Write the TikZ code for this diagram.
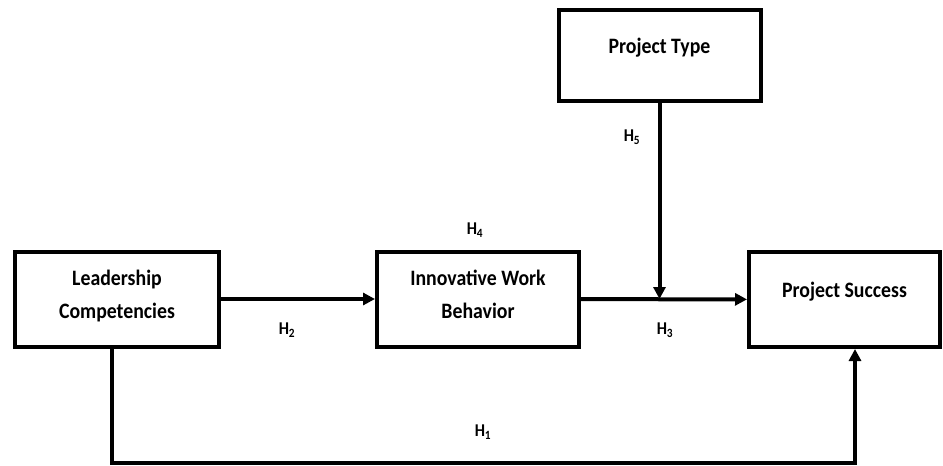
\documentclass[tikz,border=0pt]{standalone}
\usepackage{fontspec}
\setmainfont{Carlito}
\usetikzlibrary{arrows.meta}

\tikzset{
  box/.style={draw, line width=4pt, inner sep=0pt, align=center,
    font=\bfseries\fontsize{22}{33}\selectfont\addfontfeature{FakeStretch=0.9}},
  onebox/.style={box, text height=14pt, text depth=19pt},
  twobox/.style={box, text height=47pt, text depth=9pt},
  link/.style={line width=4pt, -{Triangle[length=12pt,width=12pt]}},
  hyp/.style={font=\bfseries\fontsize{18}{18}\selectfont\addfontfeature{FakeStretch=0.9}}
}

\begin{document}
\begin{tikzpicture}[x=1pt,y=-1pt]
\useasboundingbox (0,0) rectangle (943,466);

% variables
\node[twobox, minimum width=204pt, minimum height=95pt] (lead) at (117,299) {Leadership\\Competencies};
\node[twobox, minimum width=202pt, minimum height=95pt] (iwb) at (478,299) {Innovative Work\\Behavior};
\node[onebox, minimum width=191pt, minimum height=95pt] (succ) at (844.5,299.5) {Project Success};
\node[onebox, minimum width=202pt, minimum height=91pt] (type) at (659.5,55.5) {Project Type};

% paths
\draw[link] (lead) -- (iwb);
\draw[link] (iwb) -- (succ);
\coordinate (meet) at (type.south |- iwb.east);
\draw[link] (type) -- (meet);

\coordinate (lowl) at (112,463);
\coordinate (lowr) at (855,463);
\draw[link] (lowl |- lead.south) -- (lowl) -- (lowr) -- (lowr |- succ.south);

% hypotheses
\node[hyp] (h1) at (483,432) {H\textsubscript{1}};
\node[hyp] (h2) at (287,330) {H\textsubscript{2}};
\node[hyp] (h3) at (665,330) {H\textsubscript{3}};
\node[hyp] (h4) at (475,230) {H\textsubscript{4}};
\node[hyp] (h5) at (632,137) {H\textsubscript{5}};

\end{tikzpicture}
\end{document}
